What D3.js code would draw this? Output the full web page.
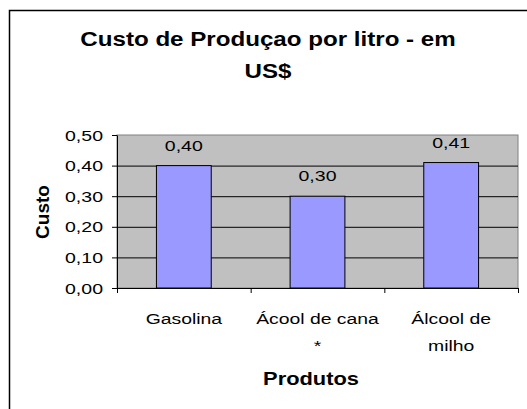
<!DOCTYPE html>
<html>
<head>
<meta charset="utf-8">
<script src="https://cdn.jsdelivr.net/npm/d3@7"></script>
<style>
  body { margin: 0; background: #fff; }
  svg { display: block; font-family: "Liberation Sans", Arial, sans-serif; }
</style>
</head>
<body>
<div id="chart"></div>
<script>
// data
var produtos = ["Gasolina", "Ácool de cana *", "Álcool de milho"];
var produtoLinhas = [["Gasolina"], ["Ácool de cana", "*"], ["Álcool de", "milho"]];
var custos = [0.40, 0.30, 0.41];
var yTicks = [0, 0.1, 0.2, 0.3, 0.4, 0.5];

var width = 527, height = 409;

var svg = d3.select("#chart").append("svg")
    .attr("width", width)
    .attr("height", height);

// chart frame (runs off the right and bottom)
svg.append("rect")
    .attr("x", 9.5).attr("y", 10.5)
    .attr("width", 540).attr("height", 420)
    .attr("fill", "#fff")
    .attr("stroke", "#000")
    .attr("stroke-width", 1.5);

var plot = { left: 117, top: 135, right: 518, bottom: 288 };

var y = d3.scaleLinear().domain([0, 0.5]).range([plot.bottom, plot.top]);
var x = d3.scaleBand()
    .domain(produtos)
    .range([plot.left, plot.right])
    .paddingInner(0.59)
    .paddingOuter(0.295);
var xEdge = d3.scaleLinear().domain([0, produtos.length]).range([plot.left, plot.right]);

var fmt = function(v) { return d3.format(".2f")(v).replace(".", ","); };

// the original picture is stretched sideways, so text gets a horizontal scale
function label(txt, px, py, size, weight, anchor, sx, rot) {
    return svg.append("text")
        .attr("transform", "translate(" + px + "," + py + ") scale(" + sx + ",1)" + (rot ? " rotate(" + rot + ")" : ""))
        .attr("font-size", size)
        .attr("font-weight", weight)
        .attr("text-anchor", anchor)
        .attr("fill", "#000")
        .text(txt);
}

// plot area
svg.append("rect")
    .attr("x", plot.left).attr("y", plot.top)
    .attr("width", plot.right - plot.left)
    .attr("height", plot.bottom - plot.top)
    .attr("fill", "#c0c0c0")
    .attr("stroke", "#808080")
    .attr("stroke-width", 1);

// gridlines
svg.append("g")
    .attr("transform", "translate(" + plot.left + ",0)")
    .call(d3.axisLeft(y).tickValues(yTicks.slice(1, -1)).tickSize(-(plot.right - plot.left)).tickFormat(""))
    .call(function(g) { g.select(".domain").remove(); })
    .selectAll("line").attr("stroke", "#000");

// bars
svg.selectAll(".bar")
    .data(custos)
    .enter().append("rect")
    .attr("class", "bar")
    .attr("x", function(d, i) { return x(produtos[i]); })
    .attr("y", function(d) { return y(d); })
    .attr("width", x.bandwidth())
    .attr("height", function(d) { return y(0) - y(d); })
    .attr("fill", "#9999ff")
    .attr("stroke", "#000")
    .attr("stroke-width", 1);

// y axis
var yAxis = svg.append("g")
    .attr("transform", "translate(" + plot.left + ",0)")
    .call(d3.axisLeft(y).tickValues(yTicks).tickSize(5).tickSizeOuter(0).tickFormat(""));
yAxis.selectAll("line, path").attr("stroke", "#000");

// x axis with ticks at category edges
var xAxis = svg.append("g")
    .attr("transform", "translate(0," + plot.bottom + ")")
    .call(d3.axisBottom(xEdge).ticks(produtos.length).tickSize(5).tickSizeOuter(0).tickFormat(""));
xAxis.selectAll("line, path").attr("stroke", "#000");

// tick labels
yTicks.forEach(function(t) {
    label(fmt(t), 103, y(t) + 5.5, 15.5, "normal", "end", 1.26);
});

produtoLinhas.forEach(function(lines, i) {
    var cx = x(produtos[i]) + x.bandwidth() / 2;
    lines.forEach(function(l, j) {
        label(l, cx, 324 + j * 27, 15.5, "normal", "middle", 1.25);
    });
});

// data labels
custos.forEach(function(v, i) {
    label(fmt(v), x(produtos[i]) + x.bandwidth() / 2, y(v) - 15, 15.5, "normal", "middle", 1.26);
});

// titles
label("Custo de Produçao por litro - em", 268, 46, 21, "bold", "middle", 1.15);
label("US$", 268, 78, 21, "bold", "middle", 1.15);
label("Produtos", 311, 385, 19, "bold", "middle", 1.15);
label("Custo", 48.5, 212, 19, "bold", "middle", 1.0, -90);
</script>
</body>
</html>
